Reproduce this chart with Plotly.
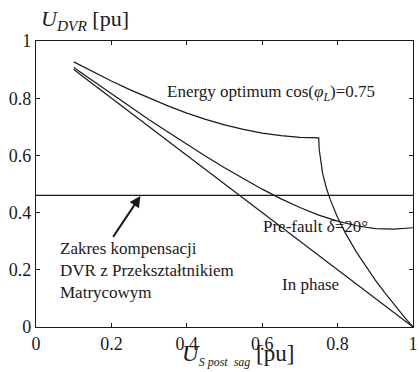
import plotly.graph_objects as go

# Supply voltage after the sag [pu]
u_supply = [0.1, 0.15, 0.2, 0.25, 0.3, 0.35, 0.4, 0.45, 0.5, 0.55, 0.6, 0.65,
            0.7, 0.75, 0.8, 0.85, 0.9, 0.95, 1.0]

# DVR voltage, pre-fault compensation with phase jump delta = 20 deg
u_prefault = [0.907, 0.861, 0.815, 0.770, 0.725, 0.682, 0.639, 0.597, 0.557,
              0.519, 0.482, 0.448, 0.418, 0.391, 0.370, 0.354, 0.344, 0.342, 0.347]

# DVR voltage, energy-optimum compensation, cos(phi_L) = 0.75
u_energy_x = [0.1, 0.15, 0.2, 0.25, 0.3, 0.35, 0.4, 0.45, 0.5, 0.55, 0.6, 0.65,
              0.7, 0.75, 0.751, 0.755, 0.76, 0.77, 0.78, 0.8, 0.82, 0.85, 0.875,
              0.9, 0.925, 0.95, 0.975, 1.0]
u_energy = [0.927, 0.893, 0.860, 0.829, 0.800, 0.773, 0.748, 0.726, 0.707,
            0.691, 0.678, 0.669, 0.663, 0.661, 0.623, 0.575, 0.539, 0.487,
            0.447, 0.383, 0.330, 0.262, 0.211, 0.164, 0.120, 0.078, 0.038, 0.0]

# DVR voltage, in-phase compensation
u_inphase_x = [0.1, 1.0]
u_inphase = [0.9, 0.0]

# Compensation limit of the matrix-converter DVR
u_limit = 0.46

x_ticks = [0, 0.2, 0.4, 0.6, 0.8, 1]
y_ticks = [0, 0.2, 0.4, 0.6, 0.8, 1]

SERIF = "Liberation Serif"
INK = "#1a1a1a"

fig = go.Figure()
line_style = dict(color=INK, width=1.2)
fig.add_trace(go.Scatter(x=u_energy_x, y=u_energy, mode="lines", line=line_style))
fig.add_trace(go.Scatter(x=u_supply, y=u_prefault, mode="lines", line=line_style))
fig.add_trace(go.Scatter(x=u_inphase_x, y=u_inphase, mode="lines", line=line_style))
fig.add_trace(go.Scatter(x=[0, 1], y=[u_limit, u_limit], mode="lines", line=line_style))

axis_common = dict(
    showline=True, linecolor=INK, linewidth=1.3, mirror="ticks",
    ticks="inside", ticklen=4, tickwidth=1, tickcolor=INK,
    showgrid=False, zeroline=False, ticklabeloverflow="allow",
    tickfont=dict(family=SERIF, size=18, color=INK),
)
fig.update_xaxes(range=[0, 1], tickvals=x_ticks, ticktext=[f"{v:g}" for v in x_ticks],
                 **axis_common)
fig.update_yaxes(range=[0, 1], tickvals=y_ticks, ticktext=[f"{v:g}" for v in y_ticks],
                 **axis_common)

label_font = dict(family=SERIF, size=17, color=INK)
annotations = [
    dict(x=0.342, y=0.817, xref="x", yref="y", xanchor="left", yanchor="middle",
         text="Energy optimum cos(<i>φ<sub>L</sub></i>)=0.75", showarrow=False,
         font=label_font),
    dict(x=0.597, y=0.351, xref="x", yref="y", xanchor="left", yanchor="middle",
         text="Pre-fault <i>δ</i>=20°", showarrow=False, font=label_font),
    dict(x=0.647, y=0.147, xref="x", yref="y", xanchor="left", yanchor="middle",
         text="In phase", showarrow=False, font=label_font),
    dict(x=0.058, y=0.197, xref="x", yref="y", xanchor="left", yanchor="middle",
         align="left", showarrow=False, font=label_font,
         text="Zakres kompensacji<br>DVR z Przekształtnikiem<br>Matrycowym"),
    # arrow pointing at the compensation limit
    dict(x=0.277, y=0.458, xref="x", yref="y", ax=0.202, ay=0.31, axref="x",
         ayref="y", text="", showarrow=True, arrowhead=2, arrowsize=1.1,
         arrowwidth=2, arrowcolor=INK),
    # axis titles
    dict(x=0.008, y=1.073, xref="paper", yref="paper", xanchor="left",
         yanchor="middle", showarrow=False,
         font=dict(family=SERIF, size=22, color=INK),
         text="<i>U</i><sub><i>DVR</i></sub> [pu]"),
    dict(x=0.537, y=-0.155, xref="paper", yref="paper", xanchor="center",
         yanchor="bottom", showarrow=False,
         font=dict(family=SERIF, size=23, color=INK),
         text="<i>U</i><sub><i><span style='font-size:12px'>S post  sag</span></i></sub> [pu]"),
]

fig.update_layout(
    width=420, height=372,
    margin=dict(l=36, r=2, t=41, b=45),
    paper_bgcolor="white", plot_bgcolor="white",
    showlegend=False,
    annotations=annotations,
)

fig.write_html("out.html")
